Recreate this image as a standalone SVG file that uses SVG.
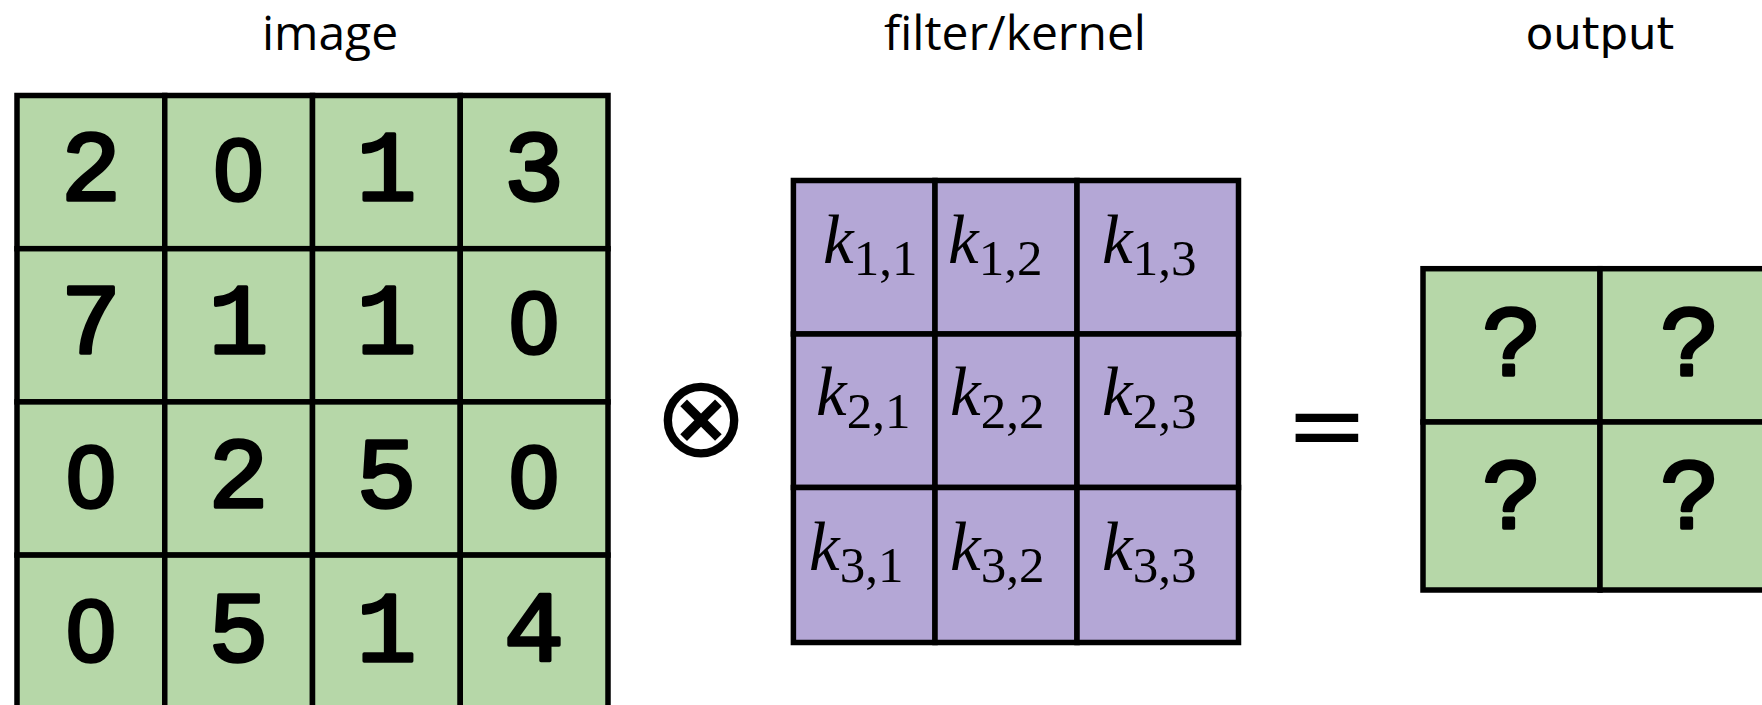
<svg xmlns="http://www.w3.org/2000/svg" width="1762" height="705" viewBox="0 0 1762 705">
  <style>
    .cell-g { fill: #b6d7a8; stroke: #000; stroke-width: 5.5; }
    .cell-p { fill: #b4a7d6; stroke: #000; stroke-width: 5.5; }
    .num { font-family: "Liberation Mono", "Courier New", monospace; font-size: 100px; text-anchor: middle; fill: #000; stroke: #000; stroke-width: 3.5; stroke-linejoin: round; stroke-linecap: round; }
    .zero { font-family: "Liberation Sans", Arial, sans-serif; font-size: 88px; }
    .title { font-family: "Open Sans", "Noto Sans", sans-serif; font-size: 48px; text-anchor: middle; fill: #000; }
    .title2 { font-family: "DejaVu Sans", sans-serif; font-size: 45px; text-anchor: middle; fill: #000; }
    .k { font-family: "Liberation Serif", "Times New Roman", serif; font-size: 69px; fill: #000; }
    .k .v { font-style: italic; }
    .k .s { font-size: 51px; }
    .op { font-family: "DejaVu Sans", sans-serif; text-anchor: middle; fill: #000; }
  </style>

  <rect width="1762" height="705" fill="#fff"/>

  <!-- titles -->
  <text class="title" x="330" y="50">image</text>
  <text class="title" x="1015" y="50">filter/kernel</text>
  <text class="title2" x="1600" y="49">output</text>

  <!-- input image: 4x4 grid -->
  <g id="image">
    <g id="img-r1c1"><rect class="cell-g" x="17" y="95.5" width="147.75" height="153.2"/><text class="num" x="90.9" y="200">2</text></g>
    <g id="img-r1c2"><rect class="cell-g" x="164.75" y="95.5" width="147.75" height="153.2"/><text class="num zero" x="238.6" y="200">0</text></g>
    <g id="img-r1c3"><rect class="cell-g" x="312.5" y="95.5" width="147.75" height="153.2"/><text class="num" x="386.4" y="200">1</text></g>
    <g id="img-r1c4"><rect class="cell-g" x="460.25" y="95.5" width="147.75" height="153.2"/><text class="num" x="534.1" y="200">3</text></g>

    <g id="img-r2c1"><rect class="cell-g" x="17" y="248.7" width="147.75" height="153.2"/><text class="num" x="90.9" y="353">7</text></g>
    <g id="img-r2c2"><rect class="cell-g" x="164.75" y="248.7" width="147.75" height="153.2"/><text class="num" x="238.6" y="353">1</text></g>
    <g id="img-r2c3"><rect class="cell-g" x="312.5" y="248.7" width="147.75" height="153.2"/><text class="num" x="386.4" y="353">1</text></g>
    <g id="img-r2c4"><rect class="cell-g" x="460.25" y="248.7" width="147.75" height="153.2"/><text class="num zero" x="534.1" y="353">0</text></g>

    <g id="img-r3c1"><rect class="cell-g" x="17" y="401.9" width="147.75" height="153.2"/><text class="num zero" x="90.9" y="507">0</text></g>
    <g id="img-r3c2"><rect class="cell-g" x="164.75" y="401.9" width="147.75" height="153.2"/><text class="num" x="238.6" y="507">2</text></g>
    <g id="img-r3c3"><rect class="cell-g" x="312.5" y="401.9" width="147.75" height="153.2"/><text class="num" x="386.4" y="507">5</text></g>
    <g id="img-r3c4"><rect class="cell-g" x="460.25" y="401.9" width="147.75" height="153.2"/><text class="num zero" x="534.1" y="507">0</text></g>

    <g id="img-r4c1"><rect class="cell-g" x="17" y="555.1" width="147.75" height="153.2"/><text class="num zero" x="90.9" y="661">0</text></g>
    <g id="img-r4c2"><rect class="cell-g" x="164.75" y="555.1" width="147.75" height="153.2"/><text class="num" x="238.6" y="661">5</text></g>
    <g id="img-r4c3"><rect class="cell-g" x="312.5" y="555.1" width="147.75" height="153.2"/><text class="num" x="386.4" y="661">1</text></g>
    <g id="img-r4c4"><rect class="cell-g" x="460.25" y="555.1" width="147.75" height="153.2"/><text class="num" x="534.1" y="661">4</text></g>
  </g>

  <!-- convolution operator -->
  <g id="op-conv"><text class="op" x="701" y="456" font-size="114">⊗</text></g>

  <!-- kernel: 3x3 grid -->
  <g id="kernel">
    <g id="k11"><rect class="cell-p" x="793.4" y="180.5" width="141.6" height="153.5"/><text class="k" x="823" y="263"><tspan class="v">k</tspan><tspan class="s" dy="12">1,1</tspan></text></g>
    <g id="k12"><rect class="cell-p" x="935" y="180.5" width="142" height="153.5"/><text class="k" x="948" y="263"><tspan class="v">k</tspan><tspan class="s" dy="12">1,2</tspan></text></g>
    <g id="k13"><rect class="cell-p" x="1077" y="180.5" width="161.5" height="153.5"/><text class="k" x="1102" y="263"><tspan class="v">k</tspan><tspan class="s" dy="12">1,3</tspan></text></g>

    <g id="k21"><rect class="cell-p" x="793.4" y="334" width="141.6" height="153.5"/><text class="k" x="816" y="415"><tspan class="v">k</tspan><tspan class="s" dy="13">2,1</tspan></text></g>
    <g id="k22"><rect class="cell-p" x="935" y="334" width="142" height="153.5"/><text class="k" x="950" y="415"><tspan class="v">k</tspan><tspan class="s" dy="13">2,2</tspan></text></g>
    <g id="k23"><rect class="cell-p" x="1077" y="334" width="161.5" height="153.5"/><text class="k" x="1102" y="415"><tspan class="v">k</tspan><tspan class="s" dy="13">2,3</tspan></text></g>

    <g id="k31"><rect class="cell-p" x="793.4" y="487.5" width="141.6" height="155"/><text class="k" x="809" y="570"><tspan class="v">k</tspan><tspan class="s" dy="12">3,1</tspan></text></g>
    <g id="k32"><rect class="cell-p" x="935" y="487.5" width="142" height="155"/><text class="k" x="950" y="570"><tspan class="v">k</tspan><tspan class="s" dy="12">3,2</tspan></text></g>
    <g id="k33"><rect class="cell-p" x="1077" y="487.5" width="161.5" height="155"/><text class="k" x="1102" y="570"><tspan class="v">k</tspan><tspan class="s" dy="12">3,3</tspan></text></g>
  </g>

  <!-- equals sign -->
  <g id="op-eq"><text class="op" x="1327" y="459" font-size="100">=</text></g>

  <!-- output: 2x2 grid -->
  <g id="output">
    <g id="out-r1c1"><rect class="cell-g" x="1423" y="268.7" width="177" height="153.3"/><text class="num" x="1512" y="375">?</text></g>
    <g id="out-r1c2"><rect class="cell-g" x="1600" y="268.7" width="177" height="153.3"/><text class="num" x="1690" y="375">?</text></g>
    <g id="out-r2c1"><rect class="cell-g" x="1423" y="422" width="177" height="168"/><text class="num" x="1512" y="528">?</text></g>
    <g id="out-r2c2"><rect class="cell-g" x="1600" y="422" width="177" height="168"/><text class="num" x="1690" y="528">?</text></g>
  </g>
</svg>
